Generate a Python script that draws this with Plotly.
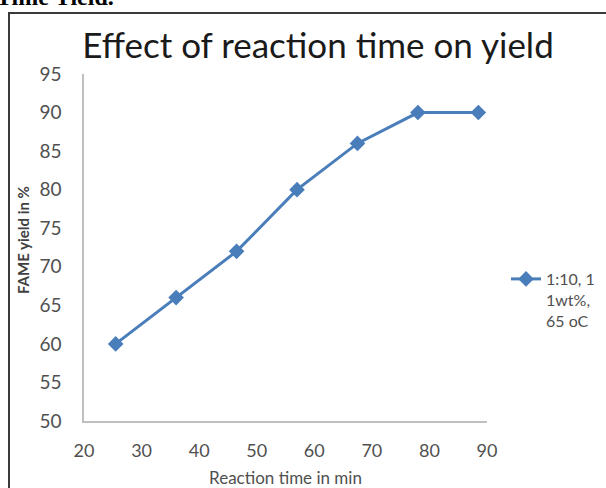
import plotly.graph_objects as go

reaction_time = [25.5, 36, 46.5, 57, 67.5, 78, 88.5]
fame_yield = [60, 66, 72, 80, 86, 90, 90]
series_name = "1:10, 1<br>1wt%,<br>65 oC"
x_ticks = [20, 30, 40, 50, 60, 70, 80, 90]
y_ticks = [50, 55, 60, 65, 70, 75, 80, 85, 90, 95]

W, H = 606, 488
L, R, T, B = 84, 487, 74, 421

def px(p):
    return (p - L) / (R - L)

def py(p):
    return (B - p) / (B - T)

font_main = "Lato, 'Open Sans', sans-serif"
tick_col = "#505050"
blue = "#4A7EBB"

fig = go.Figure()
fig.add_trace(go.Scatter(
    x=reaction_time, y=fame_yield, mode="lines+markers", name=series_name,
    line=dict(color=blue, width=3),
    marker=dict(symbol="diamond", size=12, color=blue),
))

fig.update_layout(
    width=W, height=H,
    margin=dict(l=L, r=W - R, t=T, b=H - B, autoexpand=False),
    paper_bgcolor="white", plot_bgcolor="white",
    showlegend=True,
    legend=dict(x=px(506), y=py(262), xanchor="left", yanchor="top",
                valign="top", font=dict(family=font_main, size=16, color=tick_col),
                bgcolor="rgba(0,0,0,0)", tracegroupgap=0),
    title=dict(text="Effect of reaction time on yield", x=318 / W, y=1 - 46 / H,
               xanchor="center", yanchor="middle",
               font=dict(family=font_main, size=35, color="#1a1a1a")),
    xaxis=dict(range=[20, 90], tickvals=x_ticks, showgrid=False, zeroline=False,
               showline=True, linecolor="#BFBFBF", linewidth=1.5, ticks="",
               ticklabelstandoff=13, automargin=False,
               tickfont=dict(family=font_main, size=18, color=tick_col),
               title=dict(text="Reaction time in min", standoff=14,
                          font=dict(family=font_main, size=17, color=tick_col))),
    yaxis=dict(range=[50, 95], tickvals=y_ticks, showgrid=False, zeroline=False,
               showline=True, linecolor="#BFBFBF", linewidth=1.5, ticks="",
               ticklabelstandoff=17, automargin=False,
               tickfont=dict(family=font_main, size=19, color=tick_col)),
)

fig.add_annotation(text="<b>FAME yield in %</b>", xref="paper", yref="paper",
                   x=px(23), y=py(240), xanchor="center", yanchor="middle",
                   textangle=-90, showarrow=False,
                   font=dict(family=font_main, size=15, color="#404040"))

fig.add_shape(type="rect", xref="paper", yref="paper",
              x0=px(9), x1=px(640), y0=py(520), y1=py(13),
              line=dict(color="#3a3a3a", width=2), fillcolor="rgba(0,0,0,0)", layer="above")

fig.add_annotation(text="<b>Time Yield.</b>", xref="paper", yref="paper",
                   x=px(-6), y=py(-3), xanchor="left", yanchor="middle", showarrow=False,
                   font=dict(family="Liberation Serif, serif", size=24, color="black"))

fig.write_html("out.html")
